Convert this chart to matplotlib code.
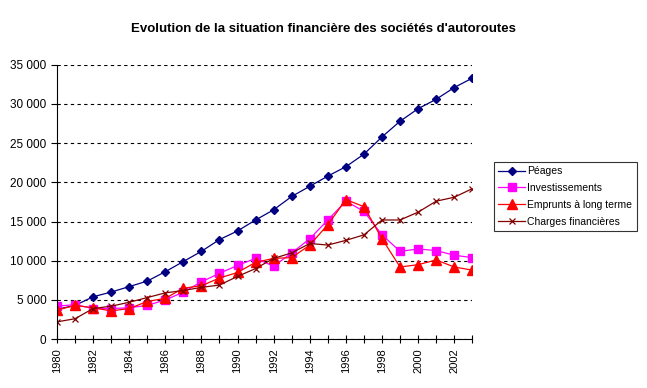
import matplotlib as mpl
mpl.use('Agg')
import matplotlib.pyplot as plt
from matplotlib.ticker import FuncFormatter, MultipleLocator

plt.rcParams['font.family'] = ['Liberation Sans', 'DejaVu Sans']

years = list(range(1980, 2004))
peages = [3800, 4300, 5400, 6000, 6700, 7400, 8600, 9900, 11200, 12700, 13800, 15200,
          16500, 18200, 19500, 20800, 22000, 23600, 25800, 27800, 29400, 30600, 32100, 33300]
investissements = [4200, 4400, 3900, 3900, 4000, 4300, 5000, 6000, 7300, 8400, 9400, 10300,
                   9300, 11000, 12800, 15200, 17600, 16300, 13300, 11200, 11500, 11300, 10700, 10400]
emprunts = [3700, 4300, 4000, 3600, 3900, 4800, 5200, 6500, 6800, 7800, 8500, 9800,
            10300, 10400, 12000, 14600, 17800, 16900, 12800, 9200, 9500, 10100, 9200, 8800]
charges = [2200, 2600, 3900, 4200, 4700, 5300, 5900, 6200, 6600, 6900, 8000, 9000,
           10300, 11000, 12200, 12000, 12600, 13300, 15200, 15200, 16200, 17600, 18100, 19200]

fig = plt.figure(figsize=(6.47, 3.88), dpi=100)
ax = fig.add_axes([0.088, 0.126, 0.642, 0.707])

ax.plot(years, peages, color='#000080', marker='D', markersize=4, lw=0.9, label='Péages')
ax.plot(years, investissements, color='#FF00FF', marker='s', markersize=6, lw=0.9, label='Investissements')
ax.plot(years, emprunts, color='#FF0000', marker='^', markersize=7, lw=0.9, label='Emprunts à long terme')
ax.plot(years, charges, color='#800000', marker='x', markersize=5, mew=0.9, lw=0.9, label='Charges financières')

ax.set_xlim(1980, 2003)
ax.set_ylim(0, 35000)
ax.yaxis.set_major_locator(MultipleLocator(5000))
ax.yaxis.set_major_formatter(FuncFormatter(lambda v, p: f"{int(v):,}".replace(',', ' ')))
ax.set_xticks(range(1980, 2004, 2))
ax.set_xticks(range(1980, 2004), minor=True)
ax.tick_params(axis='x', which='both', direction='inout', length=6, width=0.8, labelrotation=90, labelsize=8)
ax.tick_params(axis='y', direction='out', length=4, width=0.8, labelsize=8.5)
ax.grid(axis='y', color='black', linestyle=(0, (3, 3)), lw=0.8)
for s in ['top', 'right']:
    ax.spines[s].set_visible(False)

fig.text(0.5, 0.925, "Evolution de la situation financière des sociétés d'autoroutes",
         ha='center', va='center', fontsize=9.5, fontweight='bold')

leg = ax.legend(loc='center left', bbox_to_anchor=(1.04, 0.52), fontsize=7.5, frameon=True,
                fancybox=False, edgecolor='black', borderpad=0.4, labelspacing=0.65,
                handlelength=2.6, handletextpad=0.2)
leg.get_frame().set_linewidth(0.8)

plt.savefig('out.png', dpi=100)
plt.close()
